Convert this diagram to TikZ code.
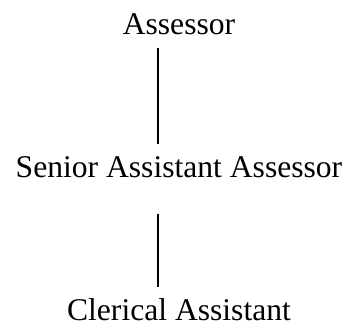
\documentclass[tikz,border=0pt]{standalone}
\usepackage{fontspec}
\setmainfont{Liberation Serif}
\usetikzlibrary{positioning}

\begin{document}
\begin{tikzpicture}[
  x=1pt,y=-1pt,
  font=\fontsize{31.6}{36}\selectfont,
  rank/.style={inner sep=0pt, anchor=base},
  link/.style={line width=1.1pt, draw=black}
]

% Frame
\useasboundingbox (0,0) rectangle (349,327);

% Ranks
\node[rank] (assessor) at (179,34) {Assessor};
\node[rank] (senior) at (179,177) {Senior Assistant Assessor};
\node[rank] (clerical) at (179,320) {Clerical Assistant};

% Links
\draw[link, shorten <=13pt, shorten >=12pt]
  ([xshift=-21pt]assessor.south) -- ([xshift=-21pt]assessor.south |- senior.north);
\draw[link, shorten <=36pt, shorten >=11pt]
  ([xshift=-21pt]senior.south) -- ([xshift=-21pt]senior.south |- clerical.north);

\end{tikzpicture}
\end{document}
